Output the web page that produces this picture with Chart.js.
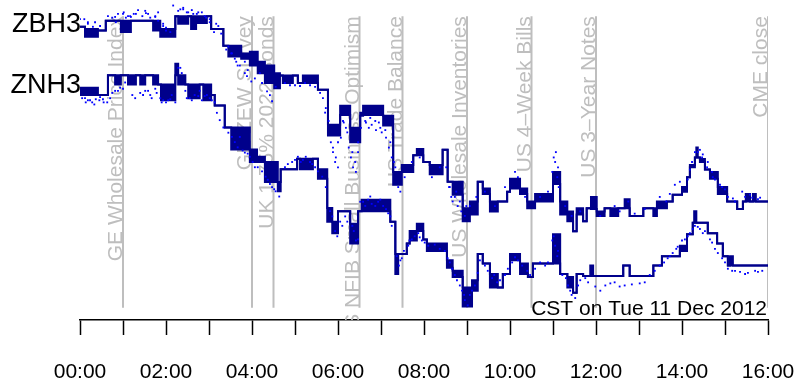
<!DOCTYPE html>
<html>
<head>
<meta charset="utf-8">
<script src="https://cdn.jsdelivr.net/npm/chart.js@4.4.1/dist/chart.umd.min.js"></script>
<style>
  html, body { margin: 0; padding: 0; background: #ffffff; }
  #wrap { width: 797px; height: 383px; }
</style>
</head>
<body>
<div id="wrap"><canvas id="c" width="797" height="383"></canvas></div>
<script>
// Minutes after midnight (CST); x axis runs 00:00 .. 16:00
const tickLabels = ['00:00', '02:00', '04:00', '06:00', '08:00', '10:00', '12:00', '14:00', '16:00'];

// ZBH3: step levels in 32nds relative to the 16:00 level.
// High/low per step: where they differ the quotes flickered between the two levels.
const zbTimes = [0,7,25,36,57,71,102,112,133,137,151,155,162,177,183,200,207,225,237,248,258,271,279,283,297,304,311,332,346,363,377,391,395,423,437,449,465,470,479,488,506,513,520,534,544,555,562,572,583,596,600,614,624,635,660,670,680,688,693,702,707,713,721,732,740,751,760,767,786,800,805,819,827,840,847,851,858,860,862,865,872,879,890,903,917,925,929,935,939,943,960];
const zbHigh = [23.0,22.7,22.5,23.8,23.8,23.8,23.8,22.7,24.4,24.4,24.4,24.4,24.4,24.4,22.7,20.5,20.5,19.5,19.7,18.4,17.9,16.9,16.6,16.6,16.6,15.6,16.6,14.7,10.1,12.6,9.7,11.7,12.6,11.3,3.9,4.8,6.1,6.9,5.2,4.8,6.8,2.6,2.6,-0.9,0,2.6,1.7,0,0,1.3,3.0,1.7,0,1.0,3.9,0,-1.3,-3.9,-0.9,-2.6,-0.9,0.6,-1.3,-0.9,-0.9,-0.9,0.3,-1.9,-0.9,-0.9,0,0,0.9,1.9,3.2,4.8,5.8,7.1,5.8,5.6,4.2,3.9,1.9,0,-1.0,0,1.0,0,1.0,0,0];
const zbLow = [23.0,21.7,22.5,23.8,22.3,23.8,22.5,21.7,24.4,23.4,24.4,22.7,23.5,24.4,22.7,20.5,19.1,18.8,17.9,16.9,15.6,14.9,16.6,15.6,16.6,15.6,15.6,14.7,8.7,11.4,7.8,11.3,11.4,10.0,2.2,3.9,6.1,6.1,5.2,3.6,6.8,2.6,0.9,-2.6,-1.7,2.6,1.0,-1.3,0,1.3,1.7,1.0,-0.9,0,2.3,-1.7,-2.6,-3.9,-1.7,-2.6,-0.9,-1.0,-1.9,-0.9,-1.9,-0.9,-0.9,-1.9,-0.9,-1.9,-0.9,0,0.9,1.3,3.2,4.5,5.8,5.8,5.8,5.2,4.2,3.0,1.0,0,-1.0,0,0,0,0,0,0];

// ZNH3: step levels in 64ths relative to the 16:00 level
const znTimes = [0,25,39,49,57,67,78,84,91,102,109,113,133,137,147,151,167,172,183,188,202,211,237,247,258,276,280,303,307,325,332,345,352,360,377,388,393,433,440,444,456,460,470,479,484,512,520,534,547,555,562,572,583,590,600,614,625,632,660,670,680,688,693,702,712,716,758,767,800,812,837,847,855,857,860,876,889,897,904,907,911,960];
const znHigh = [17.0,16.3,18.2,18.2,18.2,18.2,18.2,18.2,18.2,18.2,17.3,17.3,19.3,18.2,17.3,17.3,17.3,17.3,16.3,15.3,13.2,13.2,11.1,10.4,9.9,8.0,9.2,10.2,10.2,10.2,9.2,5.5,4.2,5.2,4.0,5.2,6.3,4.2,1.1,1.1,2.1,3.3,4.0,2.5,2.1,0.5,-0.5,-2.1,-1.4,1.1,0.2,-0.8,-2.1,-0.8,1.1,0.2,-1.1,0.2,3.0,-0.8,-1.1,-2.6,-0.8,-1.0,0,-1.0,0,-1.0,0,0.9,1.9,3.0,4.1,5.2,4.1,3.1,2.1,0.9,0,0.9,0,0];
const znLow = [16.3,16.3,18.2,17.3,18.2,17.3,18.2,17.3,18.2,17.3,17.3,15.8,18.2,17.3,17.3,16.0,17.3,15.8,16.3,15.3,13.2,11.1,9.9,9.9,8.0,7.1,9.2,10.2,9.2,10.2,8.3,4.2,3.1,5.2,2.1,5.2,5.2,4.2,-0.8,1.1,2.1,2.4,3.3,2.5,1.4,-0.2,-1.1,-3.9,-2.4,1.1,0.2,-2.1,-2.1,-0.8,0.5,-0.8,-1.1,0.2,0.2,-0.8,-2.1,-2.6,-0.8,-1.0,-1.0,-1.0,0,-1.0,0,0.9,1.4,3.0,4.1,4.1,4.1,3.1,2.1,0.9,0,0,0,0];

// Individual quotes around each series
const zbDotTimes = [6,11,21,28,39,45,53,61,64,70,75,81,87,92,98,105,109,116,120,126,140,144,149,156,163,170,176,181,187,193,204,212,218,223,230,233,239,244,251,254,261,265,268,273,286,293,300,307,314,321,328,335,342,353,356,360,367,371,380,384,388,398,405,412,419,426,433,440,444,447,453,463,474,491,502,516,523,530,537,544,553,565,579,593,607,611,621,642,653,663,667,677,686,698,726,746,753,765,774,788,809,818,823,830,837,851,858,865,869,876,882,886,896,900,914,928,938,949,
  0,11,18,49,50,60,67,71,78,91,95,105,109,116,120,130,137,144,151,158,165,174,181,190,197,207,211,216,220,230,234,339,343,347,350,353,357,360,364,368,373,375,378,381,385,388,392,399,403,407,413,417,421,427,431,435,438,511,515,518,520,525,527,532,539,659,661,664,666,668,848,854,862,868,875,883,893,904,911,924,935,946];
const zbDotValues = [24.0,23.4,23.6,23.1,24.4,24.2,24.7,24.9,24.2,24.4,24.7,25.2,24.4,24.8,24.2,24.4,24.9,23.4,22.9,22.3,25.3,25.5,24.9,25.2,24.7,24.9,24.2,23.6,22.3,23.1,20.0,19.5,18.4,17.9,16.9,16.5,15.8,16.2,16.9,15.6,14.5,14.0,13.2,15.1,15.6,15.3,15.3,15.2,15.6,15.3,15.1,14.3,11.7,6.5,5.2,7.8,10.6,9.7,6.5,5.2,7.8,10.6,11.0,10.6,9.7,9.4,7.8,4.5,1.9,1.3,3.2,5.2,5.8,3.2,4.5,1.9,0.6,0,-1.9,-0.6,0.6,1.3,-0.6,1.9,3.9,3.2,0.6,0.6,1.3,5.2,4.5,-0.6,-1.9,-1.3,-1.9,-0.6,-1.3,0,-1.6,-1.0,0.6,0,1.0,2.2,2.6,4.2,6.5,6.8,6.2,5.2,3.9,2.9,1.9,1.6,0,0.6,0.5,0.5,
  24.0,23.6,23.0,24.3,23.6,24.7,24.4,24.3,24.7,25.1,24.7,24.3,23.8,23.1,22.5,25.8,25.1,25.3,24.9,24.7,24.9,24.4,24.0,23.4,22.1,20.4,19.5,18.8,17.9,18.4,17.3,13.6,12.3,10.6,7.8,7.1,5.8,4.5,8.4,10.4,9.1,7.1,5.8,4.5,3.9,6.5,9.7,10.4,9.7,10.1,9.4,10.4,9.1,8.4,7.1,5.8,5.2,4.5,1.9,0.6,0,1.3,-0.6,-1.3,-0.6,3.9,5.8,6.5,3.2,1.9,2.9,5.2,6.5,5.8,4.5,3.2,2.2,0.6,0.4,1.3,0.9,0.3];
const znDotTimes = [7,11,17,22,28,33,42,49,56,63,73,84,91,98,105,112,116,120,126,133,140,147,153,160,167,174,181,188,195,207,216,223,230,237,244,254,262,268,273,286,296,304,311,321,328,338,349,356,363,370,380,385,391,398,402,407,416,423,430,435,442,447,452,460,467,474,481,495,509,516,523,533,537,544,551,558,569,578,586,597,607,617,628,642,653,663,667,678,684,691,698,709,719,733,746,760,781,795,809,820,827,834,844,851,858,865,872,879,886,896,904,914,921,932,942,952,
  3,8,14,20,27,32,38,45,53,60,77,88,95,100,107,114,123,128,137,142,149,156,165,170,177,184,191,200,212,220,227,234,241,248,259,265,271,278,290,300,308,315,324,332,343,352,359,366,373,382,388,395,405,412,419,427,433,445,449,458,463,472,477,486,502,513,519,526,530,536,541,547,555,565,575,582,593,603,611,624,635,649,659,661,666,673,681,686,695,705,726,740,753,770,788,802,815,823,832,840,848,855,862,869,882,890,900,910,928,946];
const znDotValues = [16.0,15.8,15.6,15.9,16.1,15.6,16.0,16.7,17.0,17.5,16.3,16.5,16.7,16.3,16.9,16.0,15.8,15.6,15.9,15.6,18.9,16.7,16.0,16.3,16.7,16.2,16.0,15.6,13.9,12.7,11.8,12.3,10.8,10.4,9.4,9.0,8.2,7.5,7.1,9.4,9.9,10.4,10.1,9.9,9.4,8.5,5.2,3.3,4.2,4.7,3.8,2.4,6.1,5.7,6.3,5.9,6.1,5.7,5.0,3.8,0.9,0.5,1.4,2.4,2.8,2.7,2.2,2.0,1.4,0.3,-0.9,-2.4,-3.3,-2.8,-1.9,0.5,-0.5,-0.9,-1.4,-0.3,0.8,0,-0.9,0.3,0.3,1.9,1.4,-1.2,-2.4,-3.1,-1.4,-1.6,-2.0,-1.9,-1.6,-1.9,-1.7,-0.9,0,0.7,1.2,1.8,2.5,3.1,3.8,3.5,3.3,2.5,1.6,0.7,-0.3,-0.5,-0.6,-0.7,-0.5,-0.5,
  16.0,15.6,15.8,15.4,15.8,15.9,15.6,16.5,16.7,16.9,16.0,16.3,16.7,16.0,16.5,15.6,15.8,16.3,18.9,18.4,16.0,15.8,16.2,15.8,16.3,15.8,14.6,13.2,12.3,11.3,11.0,10.7,9.9,9.4,8.5,7.8,7.3,6.6,9.7,10.1,9.9,10.4,9.7,9.0,7.5,4.7,2.8,3.8,4.2,3.3,2.5,6.1,6.6,5.7,6.3,5.4,4.7,0,0.7,1.9,2.5,3.1,2.4,1.9,1.6,0.7,-0.3,-1.4,-1.9,-2.8,-3.8,-2.4,-0.7,0,-1.2,-1.6,-0.9,0.3,0.5,-0.5,-0.3,0,2.4,2.8,0.9,-0.9,-1.9,-2.8,-1.9,-1.2,-2.4,-1.7,-2.0,-1.8,-1.6,-0.5,0.3,0.9,1.6,2.4,2.8,3.5,3.7,3.1,2.2,1.2,0.3,-0.5,-0.8,-0.6];

// Scheduled releases during the session
const eventTimes = [60, 240, 270, 390, 450, 540, 630, 720, 960];
const eventNames = ['GE Wholesale Price Index', 'GE ZEW Survey', 'UK 1.75% 2022 Bonds',
  'US NFIB Small Business Optimism', 'US Trade Balance', 'US Wholesale Inventories',
  'US 4\u2013Week Bills', 'US 3\u2013Year Notes', 'CME close'];
// Extent of the release markers, on the ZBH3 scale
const eventTop = 24.4;
const eventBottom = -14.0;

const NAVY = '#00008b';
const BLUE = '#0000ff';
const GRAY = '#bebebe';
const FONT = '"Liberation Sans", Arial, Helvetica, sans-serif';

const pts = (xs, ys) => xs.map((x, i) => ({ x: x, y: ys[i] }));

function stepPair(times, hi, lo, axis) {
  const common = {
    type: 'line', yAxisID: axis, stepped: true, borderColor: NAVY, borderWidth: 2,
    pointRadius: 0, order: 2, backgroundColor: NAVY
  };
  return [
    Object.assign({}, common, { data: pts(times, hi), fill: false }),
    Object.assign({}, common, { data: pts(times, lo), fill: '-1' })
  ];
}

function dots(times, vals, axis) {
  return {
    type: 'line', yAxisID: axis, showLine: false, data: pts(times, vals),
    pointStyle: 'rect', pointRadius: 1.3, pointBorderWidth: 0,
    pointBackgroundColor: BLUE, borderColor: BLUE, order: 1
  };
}

const eventLines = eventTimes.map(t => ({
  type: 'line', yAxisID: 'yB', data: [{ x: t, y: eventTop }, { x: t, y: eventBottom }],
  borderColor: GRAY, borderWidth: 2, pointRadius: 0, fill: false, order: 5
}));

const datasets = [].concat(
  eventLines,
  stepPair(zbTimes, zbHigh, zbLow, 'yB'),
  stepPair(znTimes, znHigh, znLow, 'yN'),
  [dots(zbDotTimes, zbDotValues, 'yB'), dots(znDotTimes, znDotValues, 'yN')]
);

// Release names, series names and the date note
const annotate = {
  id: 'annotate',
  beforeDatasetsDraw(chart) {
    const { ctx, chartArea: a, scales } = chart;
    ctx.save();
    ctx.beginPath();
    ctx.rect(a.left, a.top, a.right - a.left, a.bottom - a.top);
    ctx.clip();
    ctx.fillStyle = GRAY;
    ctx.font = '21px ' + FONT;
    ctx.textAlign = 'right';
    ctx.textBaseline = 'alphabetic';
    const yTop = scales.yB.getPixelForValue(eventTop);
    eventTimes.forEach((t, i) => {
      const x = scales.x.getPixelForValue(t);
      ctx.save();
      ctx.translate(x - 1, yTop);
      ctx.rotate(-Math.PI / 2);
      ctx.fillText(eventNames[i], 0, 0);
      ctx.restore();
    });
    ctx.restore();
  },
  afterDraw(chart) {
    const { ctx, chartArea: a, scales } = chart;
    ctx.save();
    ctx.fillStyle = '#000';
    ctx.font = '27px ' + FONT;
    ctx.textAlign = 'right';
    ctx.textBaseline = 'middle';
    ctx.fillText('ZBH3', a.left + 1, scales.yB.getPixelForValue(zbHigh[0]) - 2);
    ctx.fillText('ZNH3', a.left + 1, scales.yN.getPixelForValue(znHigh[0]) - 2);
    ctx.font = '21px ' + FONT;
    ctx.textBaseline = 'alphabetic';
    ctx.fillText('CST on Tue 11 Dec 2012', scales.x.getPixelForValue(960) - 1, a.bottom - 5);
    ctx.restore();
  }
};

new Chart(document.getElementById('c'), {
  data: { datasets: datasets },
  options: {
    responsive: false,
    devicePixelRatio: 1,
    animation: false,
    layout: { padding: { left: 80, right: 29, top: 0, bottom: 0 } },
    plugins: { legend: { display: false }, tooltip: { enabled: false } },
    scales: {
      x: {
        type: 'linear', position: 'bottom', min: 0, max: 960,
        afterFit: s => { s.height = 63; s.paddingLeft = 0; s.paddingRight = 0; },
        grid: { drawOnChartArea: false, drawTicks: true, tickLength: 15, tickColor: '#000', tickWidth: 1.5 },
        border: { display: true, color: '#000', width: 1.5 },
        ticks: {
          stepSize: 60, autoSkip: false, maxRotation: 0, color: '#000', padding: 25,
          font: { family: FONT, size: 21 },
          callback: v => (v % 120 === 0 ? tickLabels[v / 120] : '')
        }
      },
      yB: { display: false, min: -15.6, max: 26.0 },
      yN: { display: false, min: -5.2, max: 25.0 }
    }
  },
  plugins: [annotate]
});
</script>
</body>
</html>
